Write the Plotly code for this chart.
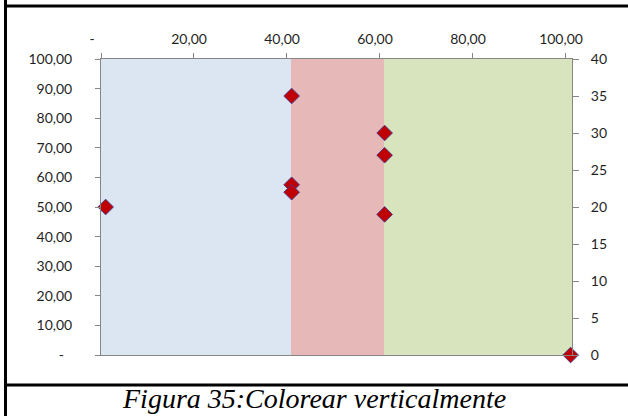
import plotly.graph_objects as go

# ---- data ----
band_edges = [0, 40.8, 60.8, 101.3]
band_colors = ["#DCE6F2", "#E6B9B8", "#D7E4BD"]
band_height = [100, 100, 100]

pts_x = [1, 41, 41, 41, 61, 61, 61, 101]
pts_y = [20, 35, 23, 22, 30, 27, 19, 0]

top_tickvals = [0, 20, 40, 60, 80, 100]
top_ticktext = ["-", "20,00", "40,00", "60,00", "80,00", "100,00"]
left_tickvals = [0, 10, 20, 30, 40, 50, 60, 70, 80, 90, 100]
left_ticktext = ["-", "10,00", "20,00", "30,00", "40,00", "50,00", "60,00",
                 "70,00", "80,00", "90,00", "100,00"]
right_tickvals = [0, 5, 10, 15, 20, 25, 30, 35, 40]
right_ticktext = ["0", "5", "10", "15", "20", "25", "30", "35", "40"]
caption = "Figura 35:Colorear verticalmente"

# ---- layout geometry (pixels) ----
W, H = 628, 416
L, R, T, B = 101, 572, 59, 355
pw, ph = R - L, B - T


def px_x(p):
    return (p - L) / pw


def px_y(p):
    return (B - p) / ph


FS = "\u2007"
TH = "\u2009"
top_text = [(t + FS + FS + TH) if t == "-" else (t + FS + TH) for t in top_ticktext]
left_text = [(t + FS) if t == "-" else t for t in left_ticktext]

AX = "#868686"
TXT = "#1f1f1f"
FONT = "Lato"

centers = [(band_edges[i] + band_edges[i + 1]) / 2 for i in range(len(band_edges) - 1)]
widths = [band_edges[i + 1] - band_edges[i] for i in range(len(band_edges) - 1)]

fig = go.Figure()
fig.add_trace(go.Bar(
    x=centers, y=band_height, width=widths, base=0,
    marker=dict(color=band_colors, line=dict(width=0)),
    xaxis="x", yaxis="y", hoverinfo="skip", showlegend=False,
))
fig.add_trace(go.Scatter(
    x=pts_x, y=pts_y, mode="markers", xaxis="x", yaxis="y2",
    marker=dict(symbol="diamond", size=12, color="#C00000",
                line=dict(color="#4B3C8C", width=1)),
    cliponaxis=False, showlegend=False, hoverinfo="skip",
))

fig.update_layout(
    width=W, height=H,
    margin=dict(l=L, r=W - R, t=T, b=H - B, pad=0),
    paper_bgcolor="white", plot_bgcolor="white",
    showlegend=False,
    bargap=0,
    xaxis=dict(
        range=[band_edges[0], band_edges[-1]], side="top",
        showline=True, linecolor=AX, linewidth=1, mirror=True,
        ticks="outside", ticklen=5, tickcolor=AX, tickwidth=1,
        tickvals=top_tickvals, ticktext=top_text,
        ticklabelstandoff=3,
        tickfont=dict(family=FONT, size=14, color=TXT),
        showgrid=False, zeroline=False, fixedrange=True,
    ),
    yaxis=dict(
        range=[0, 100], showline=True, linecolor=AX, linewidth=1,
        ticks="outside", ticklen=5, tickcolor=AX, tickwidth=1,
        tickvals=left_tickvals, ticktext=left_text,
        ticklabelstandoff=20,
        tickfont=dict(family=FONT, size=14, color=TXT),
        showgrid=False, zeroline=False, fixedrange=True,
    ),
    yaxis2=dict(
        range=[0, 40], overlaying="y", side="right",
        showline=True, linecolor=AX, linewidth=1,
        ticks="outside", ticklen=6, tickcolor=AX, tickwidth=1,
        tickvals=right_tickvals, ticktext=right_ticktext,
        ticklabelstandoff=9,
        tickfont=dict(family=FONT, size=14, color=TXT),
        showgrid=False, zeroline=False, fixedrange=True,
    ),
    annotations=[dict(
        text=caption, xref="paper", yref="paper",
        x=px_x(314), y=px_y(398.5), xanchor="center", yanchor="middle",
        showarrow=False,
        font=dict(family="Liberation Serif", size=28, color="black", style="italic"),
    )],
    shapes=[
        dict(type="line", xref="paper", yref="paper",
             x0=px_x(5.5), x1=px_x(W + 5), y0=px_y(6), y1=px_y(6),
             line=dict(color="black", width=3)),
        dict(type="line", xref="paper", yref="paper",
             x0=px_x(5.5), x1=px_x(W + 5), y0=px_y(385), y1=px_y(385),
             line=dict(color="black", width=3)),
        dict(type="line", xref="paper", yref="paper",
             x0=px_x(5.5), x1=px_x(5.5), y0=px_y(-5), y1=px_y(H + 5),
             line=dict(color="black", width=3)),
    ],
)

fig.write_html("out.html",
               config={"displayModeBar": False, "staticPlot": True},
               post_script="document.body.style.margin='0';document.body.style.overflow='hidden';")
